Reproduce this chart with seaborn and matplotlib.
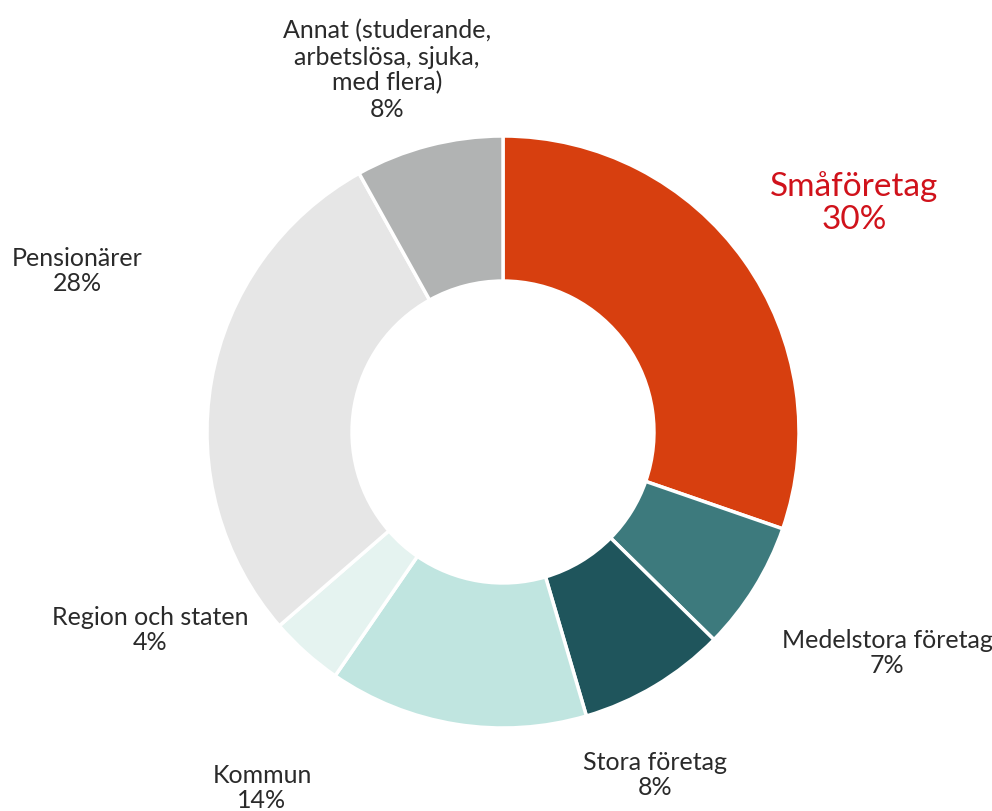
import matplotlib
matplotlib.use("Agg")
import matplotlib.pyplot as plt
import seaborn as sns
from matplotlib import font_manager

categories = ["Småföretag", "Medelstora företag", "Stora företag", "Kommun",
              "Region och staten", "Pensionärer",
              "Annat (studerande,\narbetslösa, sjuka,\nmed flera)"]
shares = [30, 7, 8, 14, 4, 28, 8]
pct_labels = ["30%", "7%", "8%", "14%", "4%", "28%", "8%"]

colors = ["#D73F0F", "#3D7A7D", "#1F555C", "#C0E5E0", "#E5F3F0", "#E6E6E6", "#B1B3B3"]

# label anchor positions in pixels (center of text block)
label_px = [(854, 203), (887, 653), (655, 775), (262, 788), (150, 630), (77, 271), (387, 70)]

sns.set_theme(style="white")
families = [f.name for f in font_manager.fontManager.ttflist]
font = "Lato" if "Lato" in families else "DejaVu Sans"
plt.rcParams["font.family"] = [font, "DejaVu Sans"]

W, H = 992, 811
cx, cy, R = 503, 432, 296
fig = plt.figure(figsize=(W / 100, H / 100), dpi=100)
ax = fig.add_axes([(cx - R) / W, 1 - (cy + R) / H, 2 * R / W, 2 * R / H])

ax.pie(shares, colors=colors, startangle=90, counterclock=False, radius=1,
       wedgeprops=dict(width=0.49, edgecolor="white", linewidth=2.5))
ax.set_xlim(-1, 1)
ax.set_ylim(-1, 1)
ax.set_aspect("equal")
ax.axis("off")

for i, (cat, pct) in enumerate(zip(categories, pct_labels)):
    px, py = label_px[i]
    x = px / W
    y = 1 - py / H
    if i == 0:
        fig.text(x, y, f"{cat}\n{pct}", ha="center", va="center", fontsize=24,
                 color="#D0121B", fontweight="normal", linespacing=1.1)
    else:
        fig.text(x, y, f"{cat}\n{pct}", ha="center", va="center", fontsize=18,
                 color="#2a2a2a", fontweight="normal", linespacing=1.15)

fig.savefig("out.png", dpi=100)
